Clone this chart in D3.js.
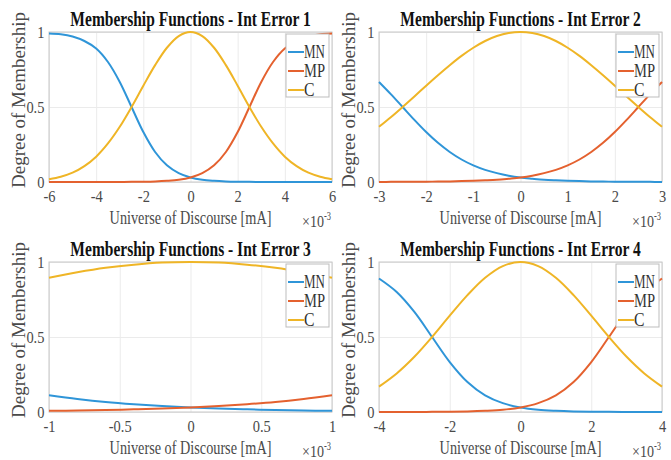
<!DOCTYPE html>
<html>
<head>
<meta charset="utf-8">
<script src="https://cdn.jsdelivr.net/npm/d3@7"></script>
<style>
  body { margin: 0; background: #fff; }
  svg { display: block; }
  text { font-family: "Liberation Serif", "Times New Roman", serif; }
</style>
</head>
<body>
<svg id="chart" width="671" height="460"></svg>
<script>
// x values are in units of 1e-3 mA
var yTicks = [0, 0.5, 1],
    yTickLabels = ["0", "0.5", "1"];

var x1 = [-6,-5.5,-5,-4.5,-4,-3.5,-3,-2.5,-2,-1.5,-1,-0.5,0,0.5,1,1.5,2,2.5,3,3.5,4,4.5,5,5.5,6];
var mn1 = [0.99,0.985,0.97,0.94,0.89,0.80,0.667,0.50,0.333,0.20,0.111,0.059,0.030,0.015,0.008,0.004,0.002,0.001,0,0,0,0,0,0,0];
var mp1 = [0,0,0,0,0,0,0,0.001,0.002,0.004,0.008,0.015,0.030,0.059,0.111,0.20,0.333,0.50,0.667,0.80,0.89,0.94,0.97,0.985,0.99];
var c1 = [0.018,0.035,0.062,0.106,0.169,0.257,0.368,0.50,0.642,0.779,0.895,0.973,1.00,0.973,0.895,0.779,0.642,0.50,0.368,0.257,0.169,0.106,0.062,0.035,0.018];
var xTicks1 = [-6,-4,-2,0,2,4,6],
    xTickLabels1 = ["-6","-4","-2","0","2","4","6"];

var x2 = [-3,-2.75,-2.5,-2.25,-2,-1.75,-1.5,-1.25,-1,-0.75,-0.5,-0.25,0,0.25,0.5,0.75,1,1.25,1.5,1.75,2,2.25,2.5,2.75,3];
var mn2 = [0.667,0.586,0.50,0.414,0.333,0.261,0.20,0.150,0.111,0.081,0.059,0.042,0.030,0.022,0.015,0.011,0.008,0.006,0.004,0.003,0.002,0.001,0.001,0.001,0];
var mp2 = [0,0.001,0.001,0.001,0.002,0.003,0.004,0.006,0.008,0.011,0.015,0.022,0.030,0.042,0.059,0.081,0.111,0.150,0.20,0.261,0.333,0.414,0.50,0.586,0.667];
var c2 = [0.368,0.432,0.50,0.570,0.642,0.712,0.779,0.841,0.895,0.940,0.973,0.993,1.00,0.993,0.973,0.940,0.895,0.841,0.779,0.712,0.642,0.570,0.50,0.432,0.368];
var xTicks2 = [-3,-2,-1,0,1,2,3],
    xTickLabels2 = ["-3","-2","-1","0","1","2","3"];

var x3 = [-1,-0.8,-0.6,-0.4,-0.2,0,0.2,0.4,0.6,0.8,1];
var mn3 = [0.111,0.087,0.067,0.052,0.040,0.030,0.023,0.018,0.013,0.010,0.008];
var mp3 = [0.008,0.010,0.013,0.018,0.023,0.030,0.040,0.052,0.067,0.087,0.111];
var c3 = [0.895,0.931,0.961,0.982,0.996,1.00,0.996,0.982,0.961,0.931,0.895];
var xTicks3 = [-1,-0.5,0,0.5,1],
    xTickLabels3 = ["-1","-0.5","0","0.5","1"];

var x4 = [-4,-3.5,-3,-2.5,-2,-1.5,-1,-0.5,0,0.5,1,1.5,2,2.5,3,3.5,4];
var mn4 = [0.89,0.80,0.667,0.50,0.333,0.20,0.111,0.059,0.030,0.015,0.008,0.004,0.002,0.001,0,0,0];
var mp4 = [0,0,0,0.001,0.002,0.004,0.008,0.015,0.030,0.059,0.111,0.20,0.333,0.50,0.667,0.80,0.89];
var c4 = [0.169,0.257,0.368,0.50,0.642,0.779,0.895,0.973,1.00,0.973,0.895,0.779,0.642,0.50,0.368,0.257,0.169];
var xTicks4 = [-4,-2,0,2,4],
    xTickLabels4 = ["-4","-2","0","2","4"];

var seriesNames = ["MN", "MP", "C"],
    seriesColors = ["#2f95d8", "#e4612f", "#efb526"];

var titles = ["Membership Functions - Int Error 1", "Membership Functions - Int Error 2",
              "Membership Functions - Int Error 3", "Membership Functions - Int Error 4"];

var panels = [
    { left: 49,  top: 32,  xs: x1, ys: [mn1, mp1, c1], ticks: xTicks1, labels: xTickLabels1 },
    { left: 379, top: 32,  xs: x2, ys: [mn2, mp2, c2], ticks: xTicks2, labels: xTickLabels2 },
    { left: 49,  top: 262, xs: x3, ys: [mn3, mp3, c3], ticks: xTicks3, labels: xTickLabels3 },
    { left: 379, top: 262, xs: x4, ys: [mn4, mp4, c4], ticks: xTicks4, labels: xTickLabels4 }
];

var svg = d3.select("#chart"),
    width = 283,
    height = 150,
    gray = "#4a4a4a";

svg.append("rect").attr("width", 671).attr("height", 460).attr("fill", "#fff");

// text squeezed horizontally to a given width (the figure is narrow)
function fitText(parent, str, x, y, size, targetW, anchor) {
    var t = parent.append("text")
        .attr("text-anchor", anchor || "start")
        .style("font-size", size + "px")
        .text(str);
    var w = t.node().getComputedTextLength(),
        s = Math.min(1, targetW / w);
    t.attr("transform", "translate(" + x + "," + y + ") scale(" + s + ",1)");
    return t;
}

panels.forEach(function (p, i) {
    var x = d3.scaleLinear().domain(d3.extent(p.ticks)).range([0, width]),
        y = d3.scaleLinear().domain([0, 1]).range([height, 0]);

    var g = svg.append("g").attr("transform", "translate(" + p.left + "," + p.top + ")");

    // grid + tick labels
    var xAxis = g.append("g")
        .attr("transform", "translate(0," + height + ")")
        .call(d3.axisBottom(x).tickValues(p.ticks).tickSize(-height)
            .tickFormat(function (d, k) { return p.labels[k]; }));
    var yAxis = g.append("g")
        .call(d3.axisLeft(y).tickValues(yTicks).tickSize(-width)
            .tickFormat(function (d, k) { return yTickLabels[k]; }));

    [xAxis, yAxis].forEach(function (a) {
        a.attr("font-family", null).attr("font-size", null);
        a.select(".domain").remove();
        a.selectAll(".tick line").attr("stroke", "#ebebeb").attr("stroke-width", 1);
        a.selectAll(".tick text")
            .attr("fill", gray)
            .style("font-size", "17px");
    });
    xAxis.selectAll(".tick text").attr("y", 8).attr("dy", "0.71em")
        .attr("transform", "scale(0.85,1)");
    yAxis.selectAll(".tick text").attr("x", -3).attr("dy", "0.32em")
        .attr("transform", "translate(-2,0) scale(0.85,1)");

    g.append("rect")
        .attr("width", width).attr("height", height)
        .attr("fill", "none").attr("stroke", "#c8c8c8").attr("stroke-width", 1);

    var line = d3.line()
        .x(function (d) { return x(d[0]); })
        .y(function (d) { return y(d[1]); })
        .curve(d3.curveCatmullRom);

    p.ys.forEach(function (vals, k) {
        g.append("path")
            .datum(p.xs.map(function (v, j) { return [v, vals[j]]; }))
            .attr("fill", "none")
            .attr("stroke", seriesColors[k])
            .attr("stroke-width", 2)
            .attr("d", line);
    });

    // title
    fitText(g, titles[i], width / 2, -6, 21, 222, "middle")
        .style("font-weight", "bold").attr("fill", "#111");

    // x label
    fitText(g, "Universe of Discourse [mA]", width / 2, height + 42, 19, 162, "middle")
        .attr("fill", gray);

    // exponent
    fitText(g, "\u00d710", width - 30, height + 45, 16, 22).attr("fill", gray);
    fitText(g, "-3", width - 8, height + 38, 12, 7).attr("fill", gray);

    // y label
    var yl = g.append("text")
        .attr("text-anchor", "middle")
        .attr("fill", gray)
        .style("font-size", "19px")
        .text("Degree of Membership");
    var s = 176 / yl.node().getComputedTextLength();
    yl.attr("transform", "translate(-24," + (height / 2 - 7) + ") rotate(-90) scale(" + Math.min(1, s) + ",1)");

    // legend
    var lg = g.append("g").attr("transform", "translate(" + (width - 46) + ",2)");
    lg.append("rect")
        .attr("width", 43).attr("height", 63)
        .attr("fill", "#fff").attr("stroke", "#bdbdbd");
    seriesNames.forEach(function (name, k) {
        var yy = 18 + k * 19;
        lg.append("line")
            .attr("x1", 2).attr("x2", 18).attr("y1", yy).attr("y2", yy)
            .attr("stroke", seriesColors[k]).attr("stroke-width", 2);
        fitText(lg, name, 18, yy + 6, 18, name.length * 10.5).attr("fill", "#333");
    });
});
</script>
</body>
</html>
